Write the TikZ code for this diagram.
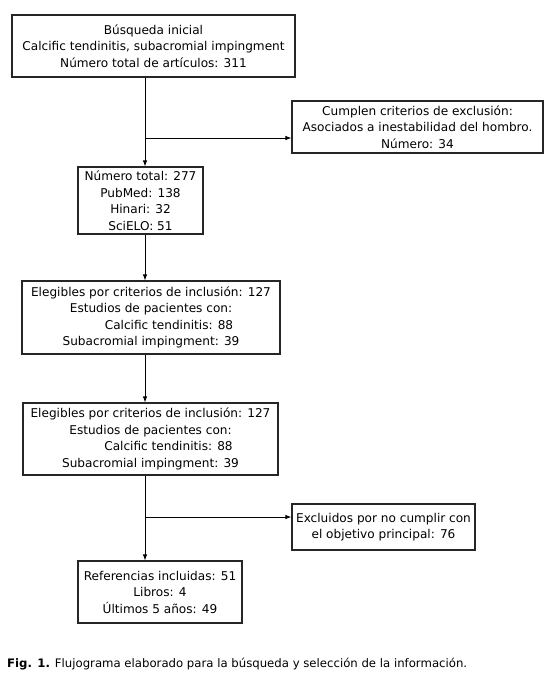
\documentclass[tikz,border=0pt]{standalone}
\usepackage{fontspec}
\setmainfont{DejaVu Sans}
\usetikzlibrary{arrows.meta}
\begin{document}
\begin{tikzpicture}[x=1pt,y=-1pt,
  box/.style={draw=black!85, line width=1.1pt, fill=white, align=center, inner sep=0pt,
    font=\fontsize{12.1}{16.5}\selectfont},
  conn/.style={line width=0.9pt, -{Latex[length=6pt,width=4.5pt]}},
  plain/.style={line width=0.9pt}]
\useasboundingbox (0,0) rectangle (554,681);
\node[box, minimum width=283pt, minimum height=62pt] (b1) at (153.5,46)
  {Búsqueda inicial\\Calcific tendinitis, subacromial impingment\\Número total de artículos: 311};
\node[box, minimum width=251pt, minimum height=52pt] (b2) at (417.5,127)
  {Cumplen criterios de exclusión:\\Asociados a inestabilidad del hombro.\\Número: 34};
\node[box, minimum width=125pt, minimum height=67pt] (b3) at (140.5,200.5)
  {Número total: 277\\PubMed: 138\\Hinari: 32\\SciELO: 51};
\node[box, minimum width=258pt, minimum height=73pt] (b4) at (151,317.5)
  {Elegibles por criterios de inclusión: 127\\Estudios de pacientes con:\\\hspace*{36pt}Calcific tendinitis: 88\\Subacromial impingment: 39};
\node[box, minimum width=255pt, minimum height=72pt] (b5) at (150.5,439)
  {Elegibles por criterios de inclusión: 127\\Estudios de pacientes con:\\\hspace*{36pt}Calcific tendinitis: 88\\Subacromial impingment: 39};
\node[box, minimum width=183pt, minimum height=46pt] (b6) at (383.5,527)
  {Excluidos por no cumplir con\\el objetivo principal: 76};
\node[box, minimum width=164pt, minimum height=62pt] (b7) at (160,592)
  {Referencias incluidas: 51\\Libros: 4\\Últimos 5 años: 49};
\coordinate (v) at (145,0);
\coordinate (j1) at (145,138);
\coordinate (j2) at (145,517);
\draw[conn] (b1.south -| v) -- (b3.north -| v);
\draw[conn] (j1) -- (j1 -| b2.west);
\draw[conn] (b3.south -| v) -- (b4.north -| v);
\draw[conn] (b4.south -| v) -- (b5.north -| v);
\draw[conn] (b5.south -| v) -- (b7.north -| v);
\draw[conn] (j2) -- (j2 -| b6.west);
\node[anchor=base west, inner sep=0pt, font=\fontsize{11.7}{13}\selectfont] (cap) at (7,667)
  {\textbf{Fig. 1.} Flujograma elaborado para la búsqueda y selección de la información.};
\end{tikzpicture}
\end{document}
